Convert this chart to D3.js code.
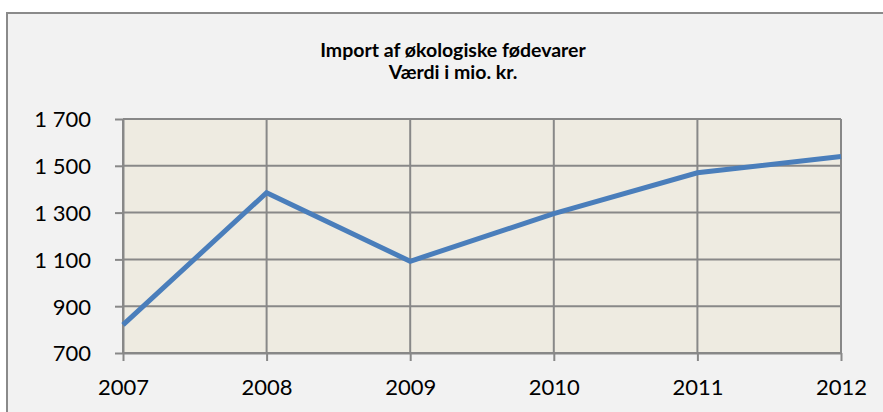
<!DOCTYPE html>
<html>
<head>
<meta charset="utf-8">
<script src="https://cdn.jsdelivr.net/npm/d3@7"></script>
<style>
  html, body { margin: 0; padding: 0; background: #ffffff; }
  svg { display: block; }
</style>
</head>
<body>
<svg id="chart" width="883" height="412"></svg>
<script>
const years = ["2007", "2008", "2009", "2010", "2011", "2012"];
const values = [820, 1385, 1092, 1296, 1470, 1540];
const yTicks = [700, 900, 1100, 1300, 1500, 1700];
const titleLines = ["Import af økologiske fødevarer", "Værdi i mio. kr."];

const svg = d3.select("#chart");
const plot = { left: 123, right: 841, top: 119, bottom: 353 };
const font = "Lato, 'Open Sans', sans-serif";

// chart background and border (extends past the viewport on right/bottom)
svg.append("rect")
  .attr("x", 7).attr("y", 13)
  .attr("width", 900).attr("height", 420)
  .attr("fill", "#f2f2f2")
  .attr("stroke", "#8a8a8a").attr("stroke-width", 2);

// title
titleLines.forEach((t, i) => {
  svg.append("text")
    .attr("x", 453).attr("y", 57 + i * 22)
    .attr("text-anchor", "middle")
    .attr("font-family", font).attr("font-weight", "bold")
    .attr("font-size", 19.5).attr("fill", "#000")
    .text(t);
});

const x = d3.scalePoint().domain(years).range([plot.left, plot.right]);
const y = d3.scaleLinear().domain([700, 1700]).range([plot.bottom, plot.top]);

// plot area
svg.append("rect")
  .attr("x", plot.left).attr("y", plot.top)
  .attr("width", plot.right - plot.left).attr("height", plot.bottom - plot.top)
  .attr("fill", "#eeebe1");

const gridColor = "#888888";
svg.append("g").selectAll("line").data(yTicks).join("line")
  .attr("x1", plot.left).attr("x2", plot.right)
  .attr("y1", d => y(d)).attr("y2", d => y(d))
  .attr("stroke", gridColor).attr("stroke-width", 2);
svg.append("g").selectAll("line").data(years).join("line")
  .attr("x1", d => x(d)).attr("x2", d => x(d))
  .attr("y1", plot.top).attr("y2", plot.bottom)
  .attr("stroke", gridColor).attr("stroke-width", 2);

// y axis
const yAxis = svg.append("g")
  .attr("transform", `translate(${plot.left},0)`)
  .call(d3.axisLeft(y).tickValues(yTicks)
    .tickFormat(d => d3.format(",")(d).replace(",", " "))
    .tickSize(8).tickPadding(24).tickSizeOuter(0));
yAxis.select(".domain").attr("stroke", gridColor).attr("stroke-width", 2);
yAxis.selectAll(".tick line").attr("stroke", gridColor).attr("stroke-width", 2);
yAxis.selectAll(".tick text")
  .attr("font-family", font).attr("font-size", 22).attr("fill", "#000")
  .attr("dy", "0.36em");

// x axis
const xAxis = svg.append("g")
  .attr("transform", `translate(0,${plot.bottom})`)
  .call(d3.axisBottom(x).tickSize(8).tickPadding(18).tickSizeOuter(0));
xAxis.select(".domain").attr("stroke", gridColor).attr("stroke-width", 2);
xAxis.selectAll(".tick line").attr("stroke", gridColor).attr("stroke-width", 2);
xAxis.selectAll(".tick text")
  .attr("font-family", font).attr("font-size", 22).attr("fill", "#000");

// series line
const line = d3.line()
  .x((d, i) => x(years[i]))
  .y(d => y(d));
svg.append("path")
  .datum(values)
  .attr("d", line)
  .attr("fill", "none")
  .attr("stroke", "#4a7ebb")
  .attr("stroke-width", 5)
  .attr("stroke-linejoin", "miter");
</script>
</body>
</html>
